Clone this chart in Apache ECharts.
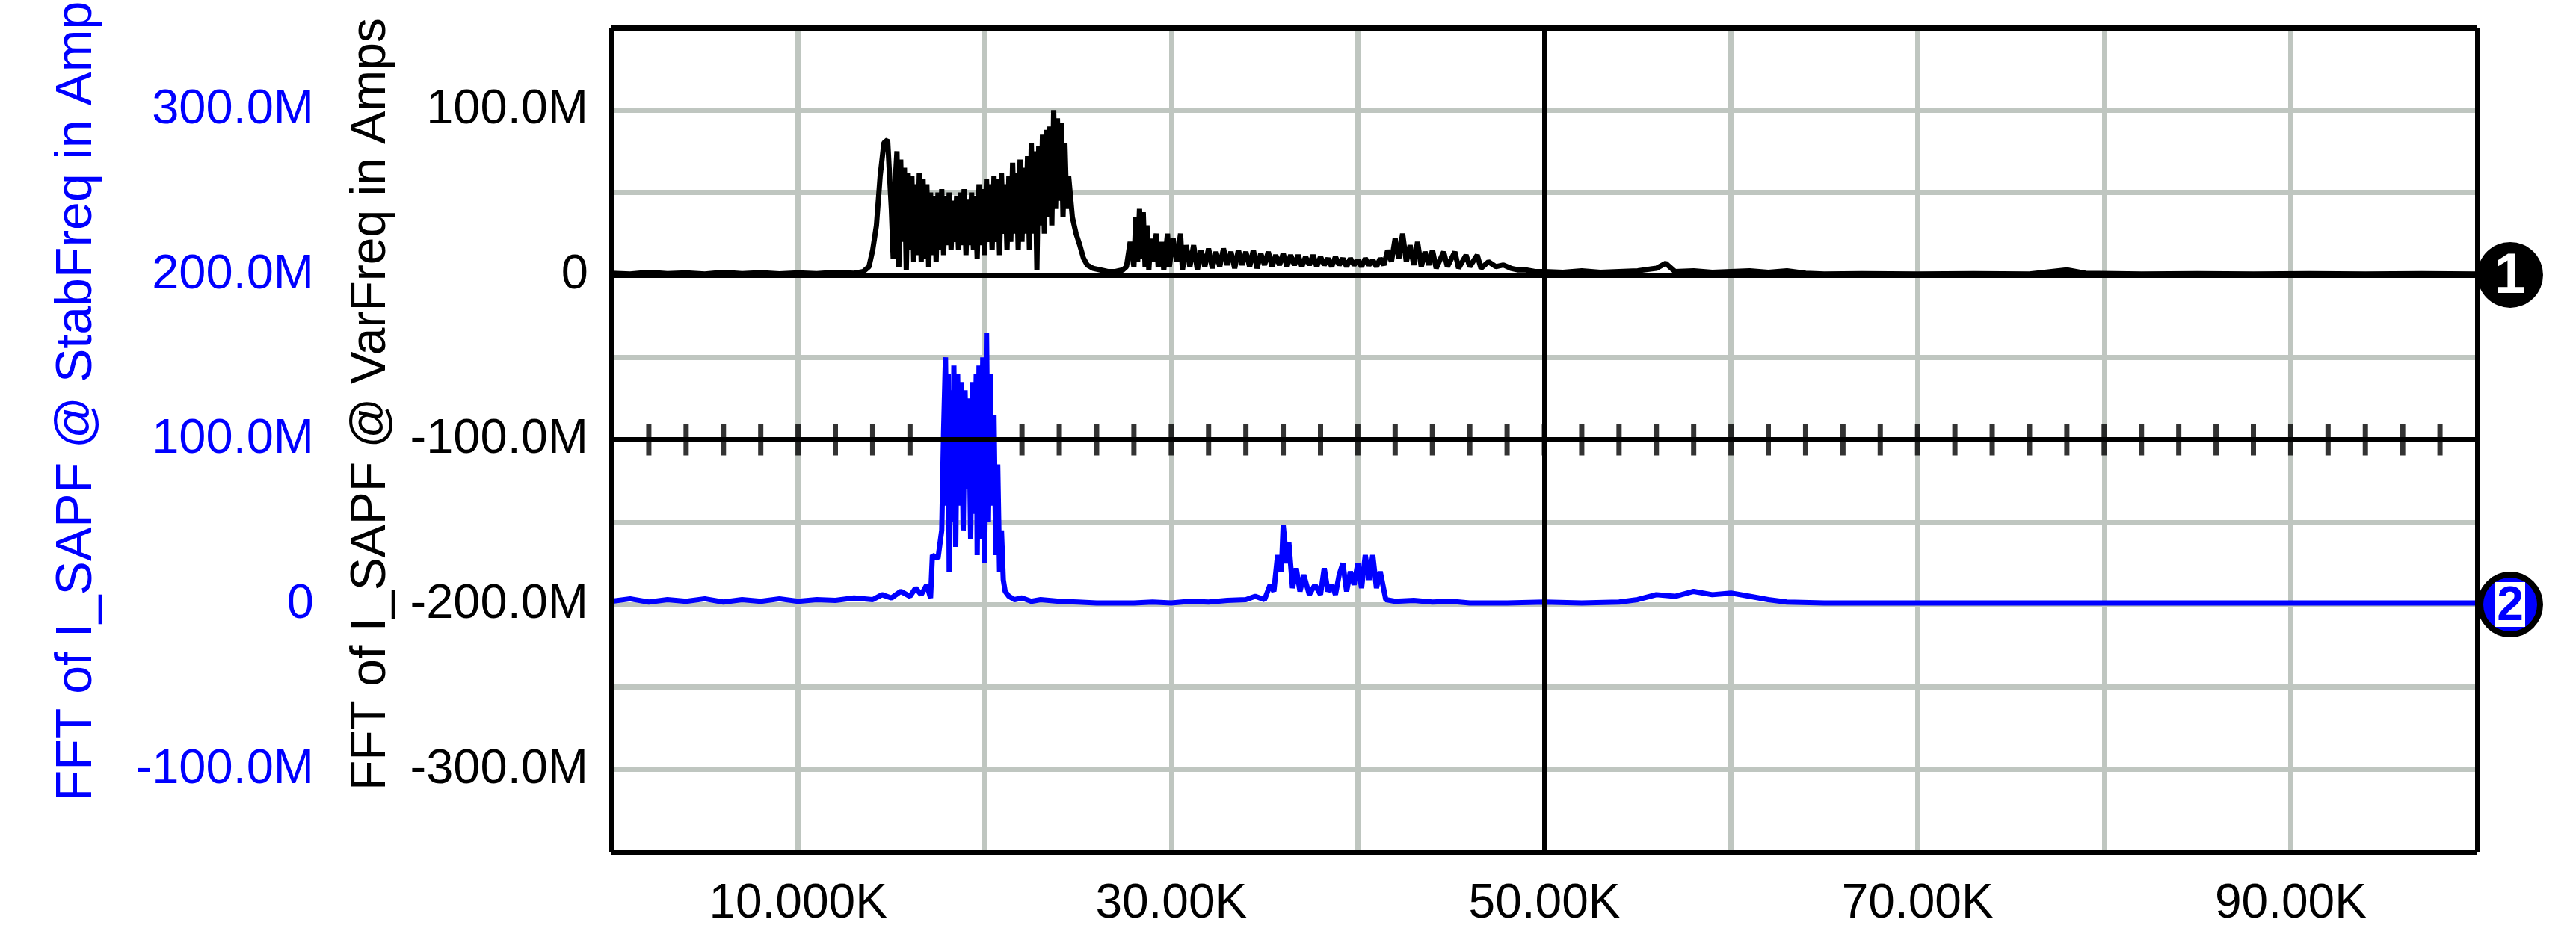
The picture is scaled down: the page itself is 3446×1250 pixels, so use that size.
<!DOCTYPE html>
<html><head><meta charset="utf-8">
<script src="https://cdn.jsdelivr.net/npm/echarts@6/dist/echarts.min.js"></script>
<style>html,body{margin:0;padding:0;background:#fff}#c{width:3446px;height:1250px}</style>
</head><body><div id="c"></div>
<script>
// Frequency in kHz, amplitude in M (millions)
const varFreqK = [0,1,2,3,4,5,6,7,8,9,10,11,12,13,13.5,13.8,14.0,14.2,14.4,14.6,14.8,15.0,15.1,15.2,15.3,15.4,15.5,15.6,15.7,15.8,15.9,16.0,16.1,16.2,16.3,16.4,16.5,16.6,16.7,16.8,16.9,17.0,17.1,17.2,17.3,17.4,17.5,17.6,17.7,17.8,17.9,18.0,18.1,18.2,18.3,18.4,18.5,18.6,18.7,18.8,18.9,19.0,19.1,19.2,19.3,19.4,19.5,19.6,19.7,19.8,19.9,20.0,20.1,20.2,20.3,20.4,20.5,20.6,20.7,20.8,20.9,21.0,21.1,21.2,21.3,21.4,21.5,21.6,21.7,21.8,21.9,22.0,22.1,22.2,22.3,22.4,22.5,22.6,22.7,22.8,22.9,23.0,23.1,23.2,23.3,23.4,23.5,23.6,23.7,23.8,23.9,24.0,24.1,24.2,24.3,24.4,24.5,24.7,24.9,25.1,25.3,25.5,25.8,26.2,26.6,27.0,27.4,27.6,27.8,28.0,28.1,28.2,28.3,28.4,28.5,28.6,28.7,28.8,28.9,29.0,29.2,29.3,29.5,29.6,29.8,29.9,30.1,30.3,30.5,30.6,30.8,31.0,31.2,31.4,31.6,31.8,32.0,32.2,32.4,32.6,32.8,33.0,33.2,33.4,33.6,33.8,34.0,34.2,34.4,34.6,34.8,35.0,35.2,35.4,35.6,35.8,36.0,36.2,36.4,36.6,36.8,37.0,37.2,37.4,37.6,37.8,38.0,38.2,38.4,38.6,38.8,39.0,39.2,39.4,39.6,39.8,40.0,40.2,40.4,40.6,40.8,41.0,41.2,41.4,41.6,41.8,42.0,42.2,42.4,42.6,42.8,43.0,43.2,43.4,43.6,43.8,44.0,44.2,44.6,44.8,45.2,45.4,45.8,46.0,46.4,46.6,47.0,47.4,47.8,48.2,48.6,49.0,49.5,50,51,52,53,54,55,56,56.5,57,58,59,60,61,62,63,64,65,67,70,73,76,78,79,82,85,88,91,94,97,100];
const varFreqAmp = [1,0.5,1.5,0.8,1.2,0.5,1.5,0.8,1.3,0.6,1.2,0.8,1.5,1,2,5,15,30,60,80,82,40,10,55,75,5,70,20,65,3,62,15,60,8,55,12,62,8,58,10,55,5,50,12,48,8,50,15,52,12,48,18,50,15,45,20,48,15,50,18,52,12,46,18,50,15,48,10,55,18,52,12,58,20,55,15,60,20,58,12,62,25,55,15,60,20,68,25,62,15,70,20,65,25,72,15,80,25,75,3,78,30,85,25,88,35,90,30,100,40,95,45,92,35,80,40,60,35,25,18,10,6,4,3,2,2,3,5,20,5,35,8,40,10,38,5,30,3,22,8,25,5,20,3,25,5,22,8,25,3,18,5,18,3,15,5,16,4,14,5,16,6,14,4,15,6,14,5,15,4,13,6,14,5,12,6,13,5,12,6,12,5,11,6,12,5,11,6,10,5,11,6,10,5,10,6,9,5,10,6,9,5,10,6,15,8,22,10,25,8,18,6,20,5,14,6,15,4,14,5,14,4,12,5,12,4,8,5,6,4,3,3,2,2,1.5,2.5,1.5,2,2.5,4,7,2,2.5,1.5,2,2.5,1.5,2.5,1,0.5,0.8,0.5,0.8,0.5,3,1,0.5,0.8,0.5,0.8,0.5,0.8,0.5];

const stabFreqK = [0,1,2,3,4,5,6,7,8,9,10,11,12,13,14,14.5,15,15.5,16,16.3,16.6,16.9,17.1,17.2,17.5,17.7,17.8,17.9,18.0,18.05,18.1,18.2,18.3,18.35,18.45,18.55,18.65,18.75,18.85,18.95,19.05,19.15,19.25,19.35,19.45,19.55,19.6,19.7,19.8,19.9,20.0,20.1,20.2,20.3,20.4,20.5,20.6,20.7,20.8,20.9,21.0,21.1,21.3,21.6,22,22.5,23,24,25,26,27,28,29,30,31,32,33,34,34.5,35,35.3,35.5,35.7,35.9,36.0,36.2,36.3,36.5,36.7,36.9,37.1,37.4,37.7,38.0,38.2,38.4,38.6,38.8,39.0,39.2,39.4,39.6,39.8,40.0,40.2,40.4,40.6,40.8,41.0,41.2,41.5,42,43,44,45,46,48,50,52,54,55,56,57,58,59,60,61,62,63,65,70,75,80,85,90,95,100];
const stabFreqAmp = [2,3.5,1.5,3,2,3.5,1.5,3,2,3.5,2,3,2.5,4,3,6,4,8,5,10,6,12,4,30,28,45,105,150,60,140,20,130,50,145,35,140,60,135,45,130,70,125,40,135,55,140,30,145,40,150,25,165,50,140,60,115,30,85,20,45,15,8,5,3,4,2,3,2,1.5,1,1,1,1.5,1,2,1.5,2.5,3,5,3,12,8,30,20,48,25,38,10,22,8,18,6,12,6,22,8,12,6,18,25,8,20,12,25,10,30,15,30,10,20,3,2,2.5,1.5,2,1,1,1.5,1,1.5,3,6,5,8,6,7,5,3,1.5,1,1,1,1,1,1,1,1];

const xTickLabels = {10000:'10.000K',30000:'30.00K',50000:'50.00K',70000:'70.00K',90000:'90.00K'};
const subTicksK = [2,4,6,8,10,12,14,16,18,20,22,24,26,28,30,32,34,36,38,40,42,44,46,48,50,52,54,56,58,60,62,64,66,68,70,72,74,76,78,80,82,84,86,88,90,92,94,96,98];
const titleVar = 'FFT of I_SAPF @ VarFreq in Amps';
const titleStab = 'FFT of I_SAPF @ StabFreq in Amps';

const fontF = '"Liberation Sans", Arial, sans-serif';
const fmtM = v => (Math.abs(v % 100) < 1e-6) ? (v === 0 ? '0' : v.toFixed(1) + 'M') : '';
const titles = [
  {type:'text',x:497,y:541,rotation:Math.PI/2,style:{text:titleVar,fontSize:66,fontFamily:fontF,fill:'#000',align:'center',verticalAlign:'middle'}},
  {type:'text',x:103,y:520,rotation:Math.PI/2,style:{text:titleStab,fontSize:68,fontFamily:fontF,fill:'#0000ff',align:'center',verticalAlign:'middle'}}
];
const chart = echarts.init(document.getElementById('c'));
chart.setOption({
  animation:false,
  backgroundColor:'#fff',
  grid:{left:818,right:132,top:37,bottom:110,show:false},
  graphic:titles,
  xAxis:{type:'value',min:0,max:100000,interval:10000,
    axisLine:{show:false},axisTick:{show:false},
    splitLine:{show:true,lineStyle:{color:'#bfc6c0',width:7}},
    axisLabel:{formatter:v=>xTickLabels[v]||'',fontSize:64,fontFamily:fontF,color:'#000',margin:38}},
  yAxis:[
    {type:'value',min:-350,max:150,interval:50,position:'left',
     axisLine:{show:false},axisTick:{show:false},
     splitLine:{show:true,lineStyle:{color:'#bfc6c0',width:7}},
     axisLabel:{formatter:fmtM,fontSize:65,fontFamily:fontF,color:'#000',margin:31}},
    {type:'value',min:-150,max:350,interval:50,position:'left',
     axisLine:{show:false},axisTick:{show:false},splitLine:{show:false},
     axisLabel:{formatter:fmtM,fontSize:65,fontFamily:fontF,color:'#0000ff',margin:398}}
  ],
  series:[
    {type:'line',yAxisIndex:0,symbol:'none',silent:true,data:[],
     markLine:{symbol:'none',silent:true,label:{show:false},lineStyle:{color:'#000',width:7,type:'solid'},
       data:[{xAxis:50000},{yAxis:0},{yAxis:-100},{xAxis:0},{xAxis:100000},{yAxis:150},{yAxis:-350}]}},
    {type:'scatter',yAxisIndex:0,symbol:'rect',symbolSize:[7,42],itemStyle:{color:'#000'},silent:true,
     data:subTicksK.map(k=>[k*1000,-100])},
    {type:'line',yAxisIndex:0,symbol:'none',lineStyle:{color:'#000',width:7},
     data:varFreqK.map((k,i)=>[k*1000,varFreqAmp[i]])},
    {type:'line',yAxisIndex:1,symbol:'none',lineStyle:{color:'#0000ff',width:7},
     data:stabFreqK.map((k,i)=>[k*1000,stabFreqAmp[i]])}
  ]
});
const p1 = chart.convertToPixel({xAxisIndex:0,yAxisIndex:0},[100000,0]);
const p2 = chart.convertToPixel({xAxisIndex:0,yAxisIndex:1},[100000,0]);
const R = 44;
chart.setOption({graphic:titles.concat([
  {type:'circle',shape:{cx:p1[0]+R,cy:p1[1],r:R},style:{fill:'#000'},z:100},
  {type:'text',x:p1[0]+R,y:p1[1]+3,z:101,style:{text:'1',fontSize:76,fontWeight:'bold',fontFamily:fontF,fill:'#fff',align:'center',verticalAlign:'middle'}},
  {type:'circle',shape:{cx:p2[0]+R,cy:p2[1],r:R-4},style:{fill:'#0000ff',stroke:'#000',lineWidth:8},z:100},
  {type:'rect',shape:{x:p2[0]+R-20,y:p2[1]-30,width:40,height:60},style:{fill:'#fff'},z:101},
  {type:'text',x:p2[0]+R,y:p2[1]+3,z:102,style:{text:'2',fontSize:64,fontWeight:'bold',fontFamily:fontF,fill:'#0000ff',align:'center',verticalAlign:'middle'}}
])},{replaceMerge:['graphic']});
</script></body></html>
